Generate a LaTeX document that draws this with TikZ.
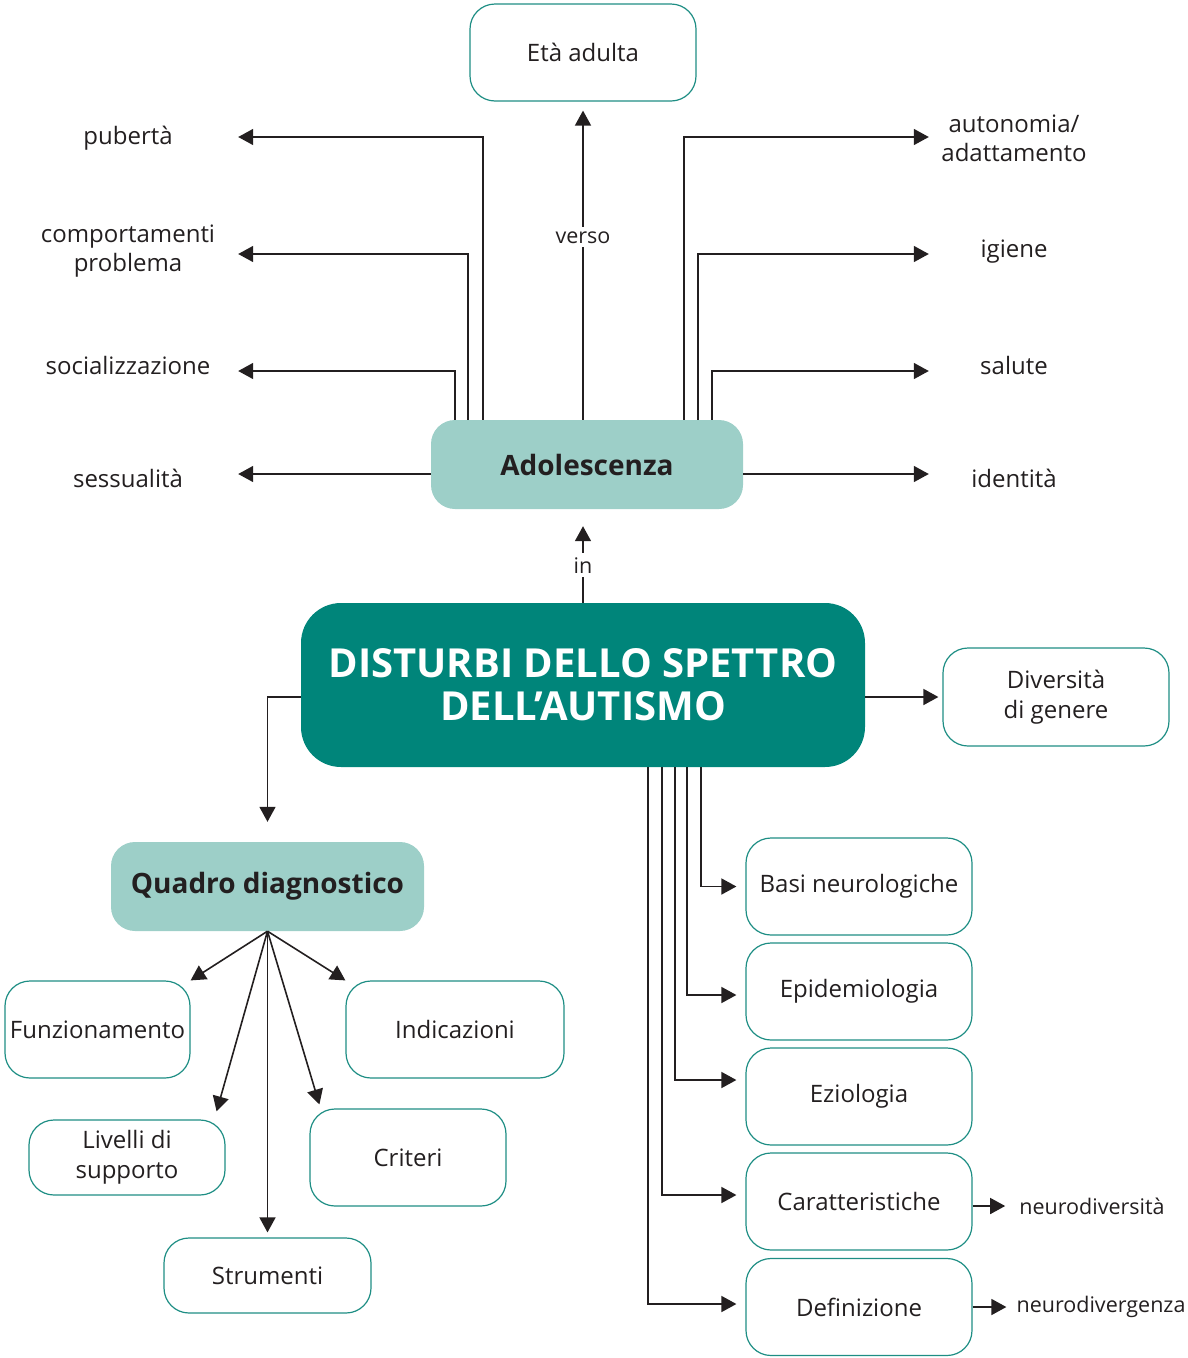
\documentclass[tikz,border=0pt]{standalone}
\usepackage{fontspec}
\setmainfont{Open Sans}
\usetikzlibrary{arrows.meta,calc}
\definecolor{ink}{HTML}{231F20}
\definecolor{dteal}{HTML}{00857A}
\definecolor{lteal}{HTML}{9DCFC8}
\definecolor{bteal}{HTML}{1E8E84}
\begin{document}
\begin{tikzpicture}[x=1pt,y=-1pt,
  every node/.style={text=ink, inner sep=0pt, align=center},
  lbl/.style={font=\fontsize{24}{29}\selectfont},
  small/.style={font=\fontsize{21.5}{25}\selectfont},
  gaplbl/.style={small, fill=white, inner sep=4pt},
  obox/.style={draw=bteal, line width=1.2pt, rounded corners=25pt, font=\fontsize{24}{30}\selectfont},
  fbox/.style={fill=lteal, rounded corners=24pt, font=\bfseries\fontsize{28}{33}\selectfont},
  conn/.style={draw=ink, line width=1.6pt},
  arr/.style={conn, -{Triangle[length=15pt,width=16pt]}},
]
\useasboundingbox (0,0) rectangle (1188,1358);

% main boxes
\node[obox, minimum width=226pt, minimum height=97pt] (eta) at (583,52.5) {Età adulta};
\node[fbox, minimum width=312pt, minimum height=89pt] (ado) at (587,464.5) {Adolescenza};
\node[fill=dteal, rounded corners=40pt, minimum width=564pt, minimum height=164pt, text=white,
      font=\bfseries\fontsize{40}{43}\selectfont] (dsa) at (583,685) {DISTURBI DELLO SPETTRO\\DELL’AUTISMO};
\node[obox, minimum width=226pt, minimum height=98pt] (div) at (1056,697) {Diversità\\di genere};
\node[fbox, minimum width=313pt, minimum height=89pt] (qd) at (267.5,886.5) {Quadro diagnostico};

% diagnostic children
\node[obox, minimum width=185pt, minimum height=97pt] (fun) at (97.5,1029.5) {Funzionamento};
\node[obox, minimum width=218pt, minimum height=97pt] (ind) at (455,1029.5) {Indicazioni};
\node[obox, minimum width=196pt, minimum height=75pt] (liv) at (127,1157.5) {Livelli di\\supporto};
\node[obox, minimum width=196pt, minimum height=97pt] (cri) at (408,1157.5) {Criteri};
\node[obox, minimum width=207pt, minimum height=75pt] (str) at (267.5,1275.5) {Strumenti};

% right column
\node[obox, minimum width=226pt, minimum height=97pt] (basi) at (859,886.5) {Basi neurologiche};
\node[obox, minimum width=226pt, minimum height=97pt] (epi) at (859,991.5) {Epidemiologia};
\node[obox, minimum width=226pt, minimum height=97pt] (ezio) at (859,1096.5) {Eziologia};
\node[obox, minimum width=226pt, minimum height=97pt] (car) at (859,1201.5) {Caratteristiche};
\node[obox, minimum width=226pt, minimum height=97pt] (def) at (859,1307) {Definizione};
\node[small] (ndiv) at (1092,1206) {neurodiversità};
\node[small] (ndg) at (1101,1307) {neurodivergenza};

% adolescence labels
\node[lbl, minimum width=220pt] (pub) at (128,138) {pubertà};
\node[lbl, minimum width=220pt] (comp) at (128,251.5) {comportamenti\\problema};
\node[lbl, minimum width=220pt] (soc) at (128,365) {socializzazione};
\node[lbl, minimum width=220pt] (ses) at (128,478) {sessualità};
\node[lbl, minimum width=170pt] (aut) at (1014,138) {autonomia/\\adattamento};
\node[lbl, minimum width=170pt] (igi) at (1014,252) {igiene};
\node[lbl, minimum width=170pt] (sal) at (1014,365) {salute};
\node[lbl, minimum width=170pt] (idt) at (1014,478) {identità};

% adolescence connectors
\draw[arr] ($(ado.north west)+(52,0)$) |- ([yshift=1pt]pub.east);
\draw[arr] ($(ado.north west)+(37,0)$) |- ([yshift=-2.5pt]comp.east);
\draw[arr] ($(ado.north west)+(24,0)$) |- ([yshift=-6pt]soc.east);
\draw[arr] ([yshift=-9.5pt]ado.west) -- ([yshift=4pt]ses.east);
\draw[arr] ($(ado.north west)+(253,0)$) |- ([yshift=1pt]aut.west);
\draw[arr] ($(ado.north west)+(267,0)$) |- ([yshift=-2pt]igi.west);
\draw[arr] ($(ado.north west)+(281,0)$) |- ([yshift=-6pt]sal.west);
\draw[arr] ([yshift=-9.5pt]ado.east) -- ([yshift=4pt]idt.west);
\draw[arr] (ado.north -| eta.south) -- ([yshift=-9pt]eta.south) node[gaplbl, pos=0.59] {verso};

\coordinate (inTip) at ($(ado.south)+(0,17)$);
\draw[arr] (dsa.north) -- (dsa.north |- inTip) node[gaplbl, pos=0.49] {in};

% DSA connectors
\draw[arr] ([yshift=-12pt]dsa.west) -| ([yshift=20pt]qd.north);
\draw[arr, shorten >=4pt] ([yshift=-12pt]dsa.east) -- (div.west);
\draw[arr] ($(dsa.south west)+(400,0)$) |- ([xshift=-9pt]basi.west);
\draw[arr] ($(dsa.south west)+(386,0)$) |- ([xshift=-9pt,yshift=-3.5pt]epi.west);
\draw[arr] ($(dsa.south west)+(374,0)$) |- ([xshift=-9pt,yshift=16.5pt]ezio.west);
\draw[arr] ($(dsa.south west)+(361,0)$) |- ([xshift=-9pt,yshift=6.5pt]car.west);
\draw[arr] ($(dsa.south west)+(347,0)$) |- ([xshift=-9pt,yshift=3pt]def.west);
\draw[arr, shorten >=14pt] (car.east |- ndiv.west) -- (ndiv.west);
\draw[arr, shorten >=10pt] (def.east |- ndg.west) -- (ndg.west);

% diagnostic connectors
\draw[arr] (qd.south) -- (fun.north east);
\draw[arr] (qd.south) -- (ind.north west);
\draw[arr] (qd.south) -- ([xshift=-9pt,yshift=8pt]liv.north east);
\draw[arr] (qd.south) -- ([xshift=10pt,yshift=4pt]cri.north west);
\draw[arr] (qd.south) -- ([yshift=5pt]str.north);
\end{tikzpicture}
\end{document}
